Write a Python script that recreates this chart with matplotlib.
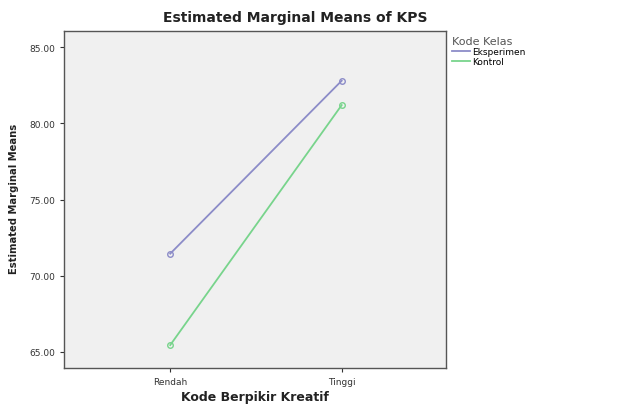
import matplotlib.pyplot as plt
from matplotlib.ticker import FormatStrFormatter

# data
levels = ['Rendah', 'Tinggi']
groups = ['Eksperimen', 'Kontrol']
means_eksperimen = [71.45, 82.8]
means_kontrol = [65.45, 81.2]
colors = ['#8c8cc8', '#78d48c']


def draw_graph():
    fig = plt.figure(figsize=(6.33, 4.06), dpi=100)
    ax = fig.add_axes([0.101, 0.091, 0.604, 0.830])
    ax.set_facecolor('#f0f0f0')

    x = list(range(len(levels)))
    for name, vals, c in zip(groups, [means_eksperimen, means_kontrol], colors):
        ax.plot(x, vals, color=c, lw=1.3, marker='o', ms=4,
                mfc='none', mec=c, label=name)

    ax.set_xlim(-0.62, 1.61)
    ax.set_ylim(63.94, 86.06)
    ax.set_yticks([65, 70, 75, 80, 85])
    ax.yaxis.set_major_formatter(FormatStrFormatter('%.2f'))
    ax.set_xticks(x)
    ax.set_xticklabels(levels)
    ax.tick_params(labelsize=6.5, colors='#333333', length=3)
    for s in ax.spines.values():
        s.set_color('#555555')
        s.set_linewidth(1.0)

    fig.text(0.466, 0.955, 'Estimated Marginal Means of KPS', ha='center',
             va='center', fontsize=10, fontweight='bold', color='#222222')
    fig.text(0.403, 0.022, 'Kode Berpikir Kreatif', ha='center',
             va='center', fontsize=9, fontweight='bold', color='#222222')
    fig.text(0.022, 0.51, 'Estimated Marginal Means', ha='center',
             va='center', rotation=90, fontsize=8, fontweight='bold',
             fontstretch='condensed', color='#222222')

    leg = ax.legend(title='Kode Kelas', loc='upper left',
                    bbox_to_anchor=(1.0, 1.0), frameon=False, fontsize=6.5,
                    title_fontsize=8, handlelength=2.0, handletextpad=0.3,
                    labelspacing=0.1, borderaxespad=0.2)
    leg._legend_box.align = 'left'
    leg.get_title().set_color('#555555')
    for h in leg.legend_handles:
        h.set_marker('')

    fig.savefig('out.png', dpi=100)


if __name__ == '__main__':
    draw_graph()
